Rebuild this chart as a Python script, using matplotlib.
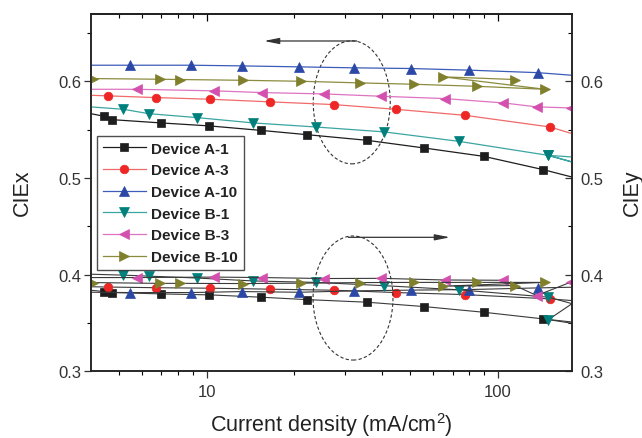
import matplotlib
matplotlib.use("Agg")
import matplotlib.pyplot as plt
from matplotlib.patches import Ellipse
from matplotlib.ticker import FixedLocator, NullFormatter

plt.rcParams['font.family'] = ['Liberation Sans', 'DejaVu Sans']
plt.rcParams['mathtext.fontset'] = 'custom'
plt.rcParams['mathtext.rm'] = 'Liberation Sans'
plt.rcParams['mathtext.it'] = 'Liberation Sans:italic'

# ---------------- data ----------------
labels = ['Device A-1', 'Device A-3', 'Device A-10', 'Device B-1', 'Device B-3', 'Device B-10']

a1_j = [4.0, 4.46, 4.73, 6.97, 10.23, 15.34, 22.05, 35.6, 55.8, 89.6, 143.6, 180]
a1_x = [0.5666, 0.5638, 0.5604, 0.557, 0.5539, 0.5493, 0.5449, 0.539, 0.5311, 0.5224, 0.5086, 0.501]
a1_y = [0.3839, 0.3825, 0.3815, 0.3801, 0.3791, 0.3767, 0.3742, 0.3715, 0.367, 0.3611, 0.3542, 0.351]

a3_j = [4.0, 4.58, 6.71, 10.31, 16.48, 27.3, 44.6, 77.1, 151.3, 180]
a3_x = [0.5856, 0.585, 0.5832, 0.5815, 0.5788, 0.576, 0.5711, 0.5649, 0.5528, 0.5459]
a3_y = [0.3875, 0.3872, 0.3865, 0.386, 0.385, 0.3839, 0.3815, 0.3794, 0.3749, 0.3732]

a10_j = [4.0, 5.46, 8.87, 13.27, 20.8, 32.0, 50.2, 79.8, 137.3, 180]
a10_x = [0.6167, 0.6167, 0.6167, 0.616, 0.615, 0.614, 0.6133, 0.6116, 0.609, 0.6063]
a10_y = [0.3818, 0.3815, 0.3815, 0.3825, 0.3818, 0.3832, 0.384, 0.3846, 0.3863, 0.387]

b1_j = [4.0, 5.18, 6.32, 9.28, 14.47, 23.7, 40.8, 73.7, 149.4, 180, 149.4, 180]
b1_x = [0.5736, 0.5711, 0.5666, 0.5625, 0.557, 0.5528, 0.5477, 0.5379, 0.5234, 0.5166, 0.5234, 0.5218]
b1_y = [0.4005, 0.3995, 0.3985, 0.3965, 0.3935, 0.392, 0.3886, 0.3843, 0.3767, 0.370, 0.3535, 0.3497]

b3_j = [4.0, 5.76, 10.59, 15.55, 25.35, 39.8, 65.7, 104.5, 136.2, 178]
b3_x = [0.5918, 0.5918, 0.5902, 0.5884, 0.587, 0.5846, 0.5822, 0.5777, 0.5736, 0.5725]
b3_y = [0.397, 0.397, 0.3975, 0.397, 0.396, 0.3962, 0.3945, 0.3942, 0.3784, 0.3922]

b10_j = [4.08, 6.90, 8.13, 13.37, 21.07, 33.7, 51.6, 84.6, 145.4, 64.9, 114.6]
b10_x = [0.6029, 0.6022, 0.6019, 0.6011, 0.6001, 0.5984, 0.597, 0.5949, 0.5918, 0.6047, 0.6019]
b10_y = [0.3918, 0.391, 0.391, 0.3908, 0.3912, 0.3918, 0.392, 0.392, 0.392, 0.3881, 0.3887]

x_ticks = [10, 100]
x_ticklabels = ['10', '100']
x_minor = [5, 6, 7, 8, 9, 20, 30, 40, 50, 60, 70, 80, 90]
y_ticks = [0.3, 0.4, 0.5, 0.6]
y_ticklabels = ['0.3', '0.4', '0.5', '0.6']
y_minor = [0.35, 0.45, 0.55, 0.65]

# ---------------- style ----------------
series = [
    (a1_j, a1_x, a1_y, 's', '#1e1e1e', '#1e1e1e', 5.5),
    (a3_j, a3_x, a3_y, 'o', '#ee2626', '#f06a6a', 6.2),
    (a10_j, a10_x, a10_y, '^', '#2b48a6', '#3b5cb8', 7.0),
    (b1_j, b1_x, b1_y, 'v', '#00807c', '#3aa5a2', 7.0),
    (b3_j, b3_x, b3_y, '<', '#d350ae', '#de73c2', 7.0),
    (b10_j, b10_x, b10_y, '>', '#7f7f2c', '#8c8c40', 7.0),
]

fig = plt.figure(figsize=(6.42, 4.39), dpi=100)
ax = fig.add_axes([0.1413, 0.1519, 0.7497, 0.8146])
ax2 = ax.twinx()

xlim = (4.0, 180.0)
for (j, cx, cy, mk, mc, lc, ms), lab in zip(series, labels):
    me = [i for i, v in enumerate(j) if xlim[0] < v < xlim[1]]
    ax.plot(j, cx, color=lc, lw=0.9, marker=mk, ms=ms, mfc=mc, mec=mc,
            mew=0.5, markevery=me, label=lab)
    ax2.plot(j, cy, color='#3a3a3a', lw=0.8, marker=mk, ms=ms, mfc=mc, mec=mc,
             mew=0.5, markevery=me)

for a in (ax, ax2):
    a.set_xscale('log')
    a.set_xlim(*xlim)
    a.set_ylim(0.3, 0.67)

ax.set_xticks(x_ticks)
ax.set_xticklabels(x_ticklabels)
ax.xaxis.set_minor_locator(FixedLocator(x_minor))
ax.xaxis.set_minor_formatter(NullFormatter())
ax.set_yticks(y_ticks)
ax.set_yticklabels(y_ticklabels)
ax.yaxis.set_minor_locator(FixedLocator(y_minor))
ax2.set_yticks(y_ticks)
ax2.set_yticklabels(y_ticklabels)
ax2.yaxis.set_minor_locator(FixedLocator(y_minor))

tc = '#333333'
ax.tick_params(axis='x', which='major', direction='out', length=5, width=0.9,
               labelsize=12, pad=4, colors=tc)
ax.tick_params(axis='x', which='minor', direction='out', length=3, width=0.8)
ax.tick_params(axis='y', which='major', direction='out', length=5, width=0.9,
               labelsize=12, pad=2, colors=tc)
ax.tick_params(axis='y', which='minor', direction='out', length=3, width=0.8)
ax2.tick_params(axis='y', which='major', direction='in', length=5, width=0.9,
                labelsize=12, pad=6, colors=tc)
ax2.tick_params(axis='y', which='minor', direction='in', length=3, width=0.8)

# top axis: inward ticks, no labels
top = ax.secondary_xaxis('top')
top.set_xticks(x_ticks)
top.xaxis.set_minor_locator(FixedLocator(x_minor))
top.xaxis.set_minor_formatter(NullFormatter())
top.tick_params(axis='x', which='major', direction='in', length=5, width=0.9, labeltop=False)
top.tick_params(axis='x', which='minor', direction='in', length=3, width=0.8)
top.spines['top'].set_linewidth(1.1)
top.spines['top'].set_color('#222222')

for a in (ax, ax2):
    for s in a.spines.values():
        s.set_linewidth(1.1)
        s.set_color('#222222')

leg = ax.legend(loc='upper left', bbox_to_anchor=(0.0125, 0.6588), borderaxespad=0,
                frameon=True, fancybox=False, edgecolor='#222222', handlelength=2.8,
                handletextpad=0.35, labelspacing=0.5, borderpad=0.4,
                prop={'weight': 'bold', 'size': 11})
leg.get_frame().set_linewidth(1.0)
for t in leg.get_texts():
    t.set_color('#222222')
ax.set_zorder(ax2.get_zorder() + 1)
ax.patch.set_visible(False)

# annotations (ellipses and arrows) in axes fraction
ax.add_patch(Ellipse((0.5423, 0.7522), 0.160, 0.344, transform=ax.transAxes,
                     fill=False, ls=(0, (3, 2)), lw=0.8, ec='#333333'))
ax.add_patch(Ellipse((0.545, 0.205), 0.166, 0.347, transform=ax.transAxes,
                     fill=False, ls=(0, (3, 2)), lw=0.8, ec='#333333'))
ax.annotate('', xy=(0.360, 0.9237), xytext=(0.5527, 0.9237), xycoords='axes fraction',
            arrowprops=dict(arrowstyle='-|>,head_length=0.9,head_width=0.18',
                            lw=0.9, color='#333333', shrinkA=0, shrinkB=0))
ax.annotate('', xy=(0.7465, 0.3747), xytext=(0.5352, 0.3747), xycoords='axes fraction',
            arrowprops=dict(arrowstyle='-|>,head_length=0.9,head_width=0.18',
                            lw=0.9, color='#333333', shrinkA=0, shrinkB=0))

fig.text(22.8 / 642, 1 - 192.5 / 439, 'CIEx', rotation=90, ha='center', va='center',
         fontsize=15.5, color='#222222')
fig.text(632 / 642, 1 - 192.5 / 439, 'CIEy', rotation=90, ha='center', va='center',
         fontsize=15.5, color='#222222')
fig.text(331 / 642, 1 - 425 / 439, 'Current density (mA/cm$^2$)', ha='center',
         va='center', fontsize=15.5, color='#222222')

fig.savefig('out.png', dpi=100)
